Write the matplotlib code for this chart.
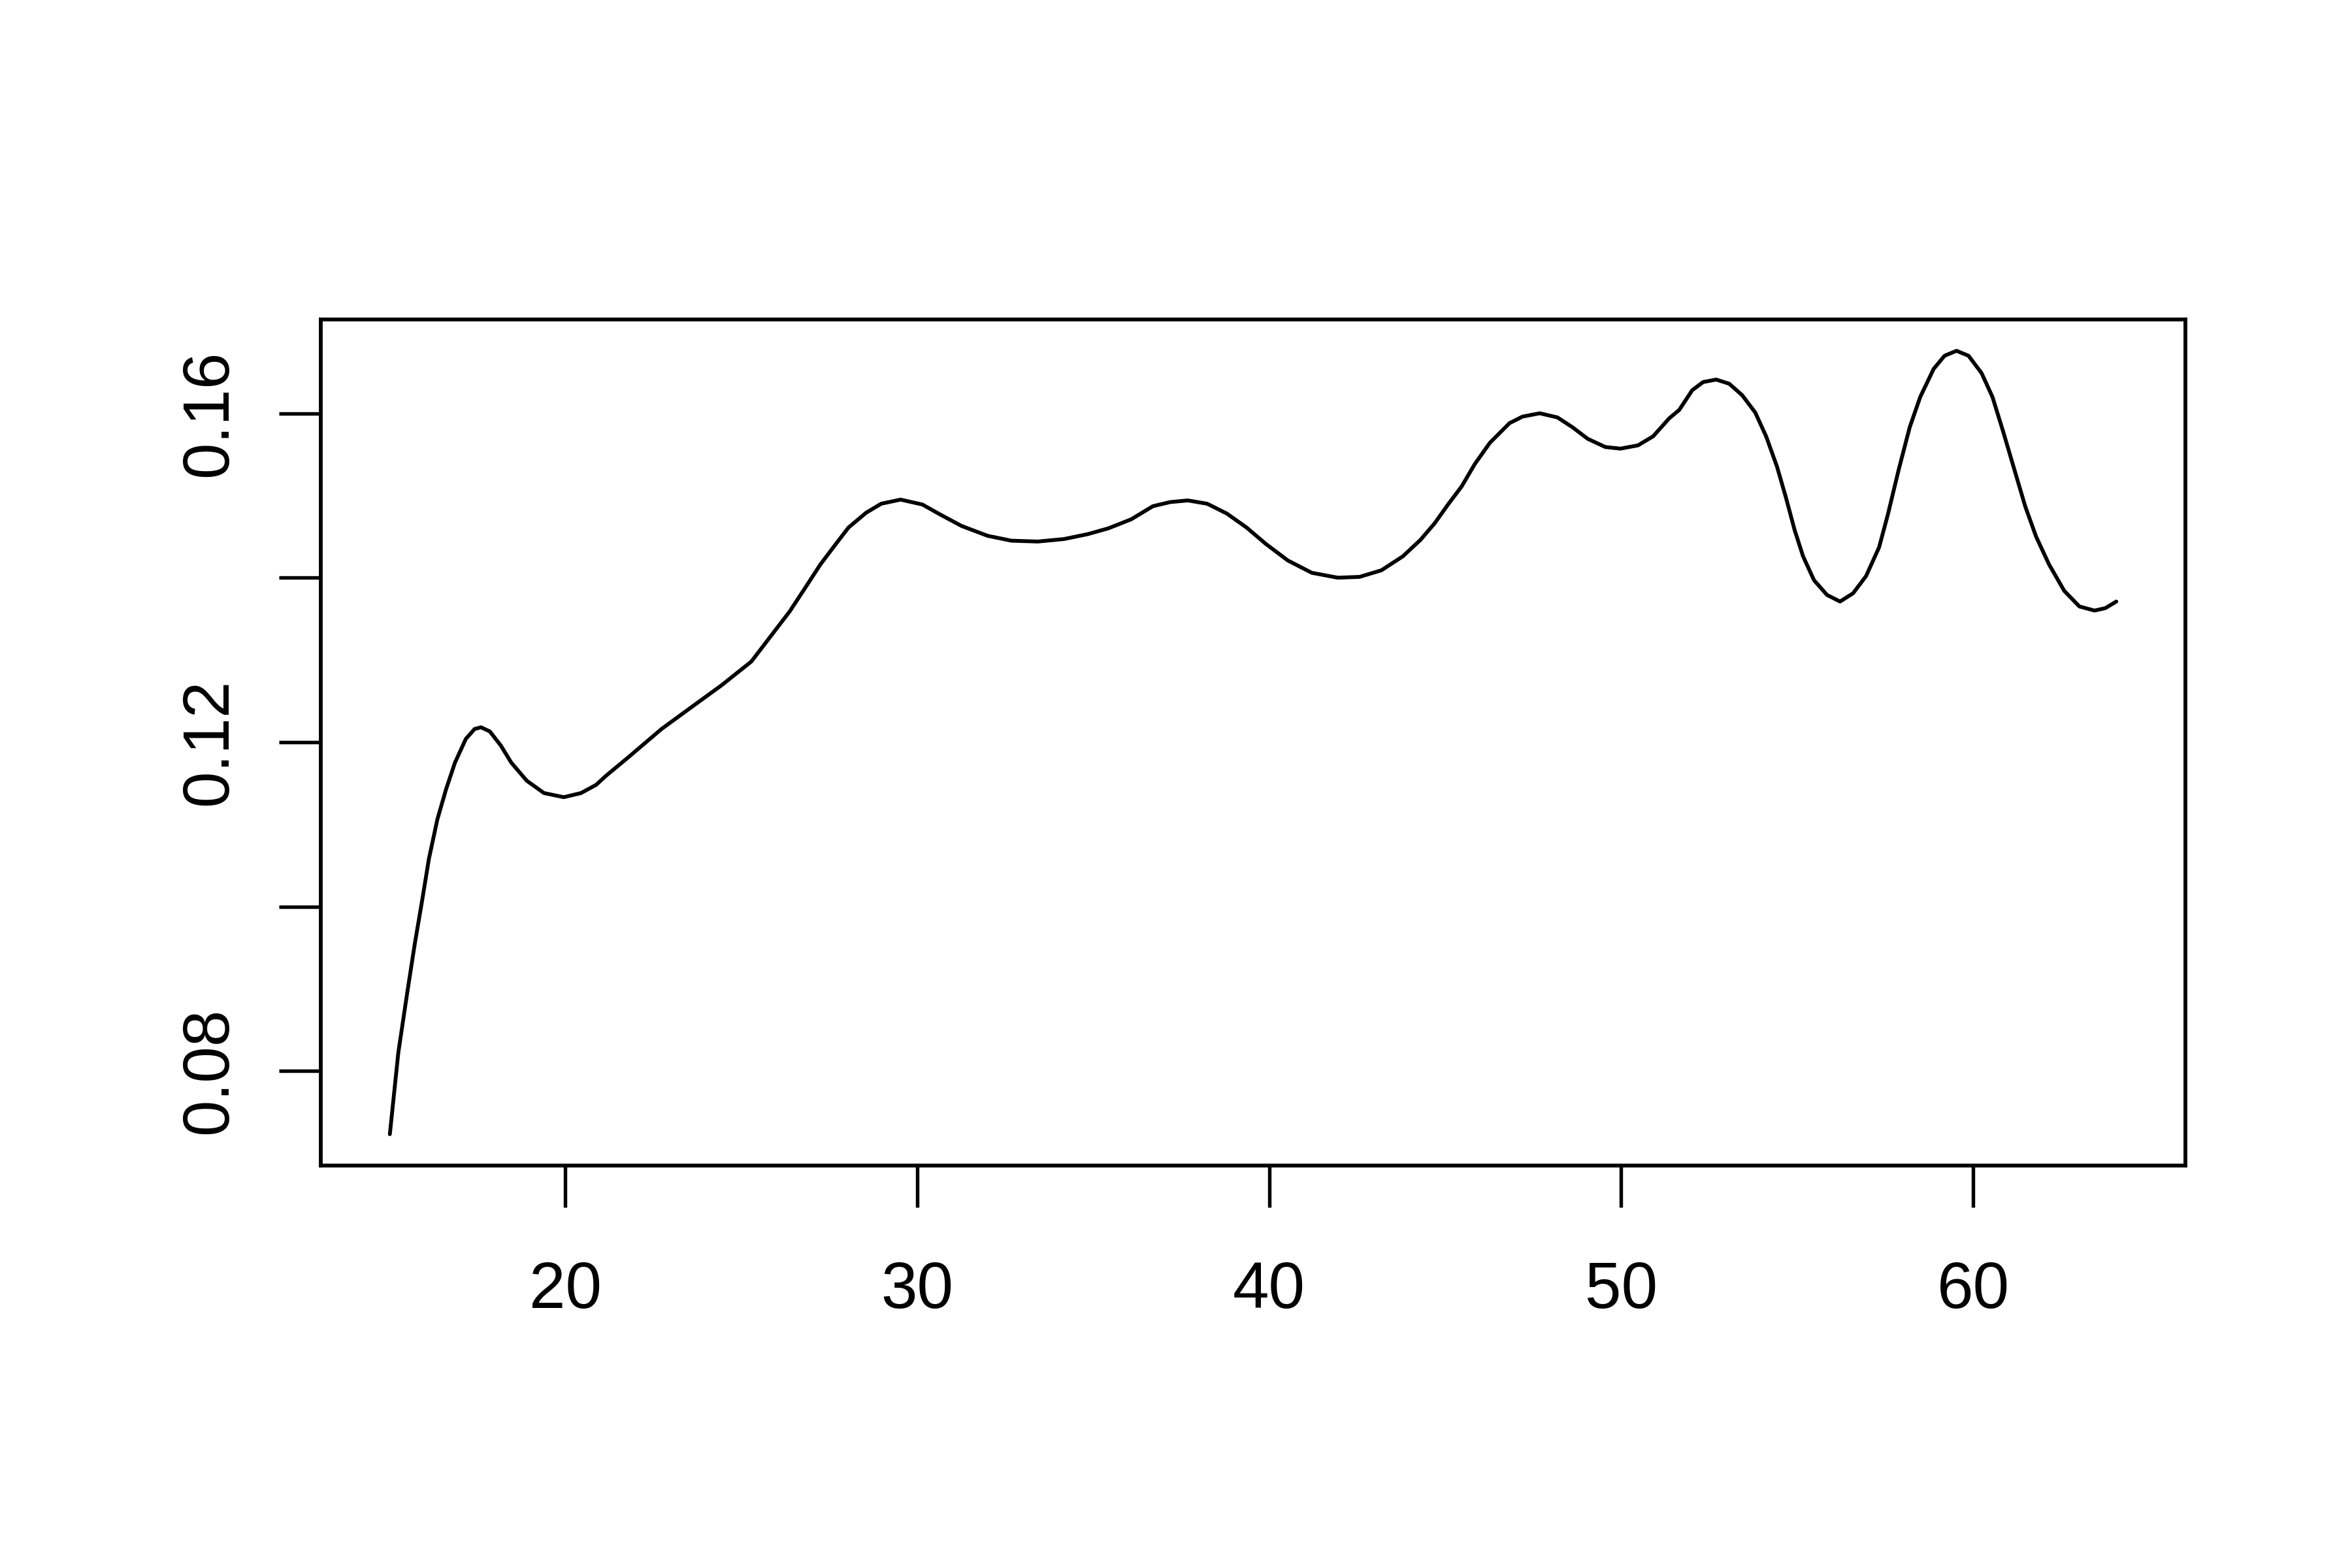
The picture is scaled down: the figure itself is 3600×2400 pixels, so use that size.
import matplotlib
matplotlib.use("Agg")
import matplotlib.pyplot as plt

plt.rcParams['font.family'] = ['Liberation Sans', 'DejaVu Sans']

x_vals = [15.02, 15.26, 15.51, 15.73, 15.94, 16.13, 16.37, 16.62, 16.87, 17.18,
          17.43, 17.61, 17.86, 18.17, 18.47, 18.91, 19.40, 19.96, 20.45, 20.88,
          21.16, 21.78, 22.74, 23.70, 24.44, 25.29, 26.38, 26.81, 27.25, 27.62,
          28.05, 28.55, 28.98, 29.53, 30.15, 30.65, 31.26, 32.00, 32.68, 33.43,
          34.17, 34.85, 35.43, 36.08, 36.70, 37.19, 37.69, 38.24, 38.80, 39.36,
          39.91, 40.53, 41.21, 41.95, 42.57, 43.19, 43.80, 44.30, 44.70, 45.10,
          45.47, 45.84, 46.27, 46.83, 47.20, 47.69, 48.19, 48.62, 49.05, 49.55,
          49.98, 50.48, 50.91, 51.37, 51.65, 52.02, 52.33, 52.70, 53.07, 53.44,
          53.81, 54.12, 54.43, 54.68, 54.93, 55.17, 55.48, 55.85, 56.22, 56.59,
          56.96, 57.33, 57.58, 57.89, 58.20, 58.50, 58.88, 59.19, 59.53, 59.87,
          60.24, 60.55, 60.86, 61.17, 61.48, 61.79, 62.16, 62.59, 63.02, 63.45,
          63.76, 64.07]
y_vals = [0.0723, 0.0822, 0.0894, 0.0955, 0.1008, 0.1058, 0.1106, 0.1143, 0.1175, 0.1204,
          0.1216, 0.1218, 0.1213, 0.1196, 0.1175, 0.1153, 0.1138, 0.1133, 0.1138, 0.1148,
          0.1159, 0.1181, 0.1216, 0.1246, 0.1269, 0.1298, 0.1359, 0.1387, 0.1416, 0.1437,
          0.1461, 0.1479, 0.1490, 0.1495, 0.1489, 0.1477, 0.1463, 0.1451, 0.1445, 0.1444,
          0.1447, 0.1453, 0.1460, 0.1471, 0.1487, 0.1492, 0.1494, 0.1490, 0.1478, 0.1461,
          0.1441, 0.1421, 0.1406, 0.1400, 0.1401, 0.1409, 0.1426, 0.1446, 0.1466, 0.1490,
          0.1511, 0.1538, 0.1564, 0.1588, 0.1596, 0.1600, 0.1595, 0.1583, 0.1569, 0.1559,
          0.1557, 0.1561, 0.1572, 0.1594, 0.1604, 0.1628, 0.1638, 0.1641, 0.1636, 0.1622,
          0.1601, 0.1572, 0.1535, 0.1498, 0.1458, 0.1426, 0.1397, 0.1379, 0.1371, 0.1381,
          0.1402, 0.1437, 0.1477, 0.1532, 0.1583, 0.1620, 0.1654, 0.1670, 0.1676, 0.1670,
          0.1649, 0.1620, 0.1577, 0.1532, 0.1487, 0.1450, 0.1416, 0.1384, 0.1365, 0.1360,
          0.1363, 0.1371]

x_ticks = [20, 30, 40, 50, 60]
y_ticks = [0.08, 0.10, 0.12, 0.14, 0.16]
y_tick_labels = ["0.08", "", "0.12", "", "0.16"]

fig = plt.figure(figsize=(12, 8), dpi=300)
ax = fig.add_axes([491/3600, 1 - 1784/2400, (3345 - 491)/3600, (1784 - 489)/2400])
ax.plot(x_vals, y_vals, color='black', linewidth=1.4,
        solid_joinstyle='round', solid_capstyle='round')
ax.margins(x=0.04, y=0.04)

ax.set_xticks(x_ticks)
ax.set_xticklabels([str(t) for t in x_ticks])
ax.set_yticks(y_ticks)
ax.set_yticklabels(y_tick_labels, rotation=90, va='center')

for s in ax.spines.values():
    s.set_linewidth(1.4)
ax.tick_params(axis='both', length=15.4, width=1.3, labelsize=24, color='black')
ax.tick_params(axis='x', pad=19.4)
ax.tick_params(axis='y', pad=14)

fig.savefig("out.png", dpi=300, facecolor='white')
